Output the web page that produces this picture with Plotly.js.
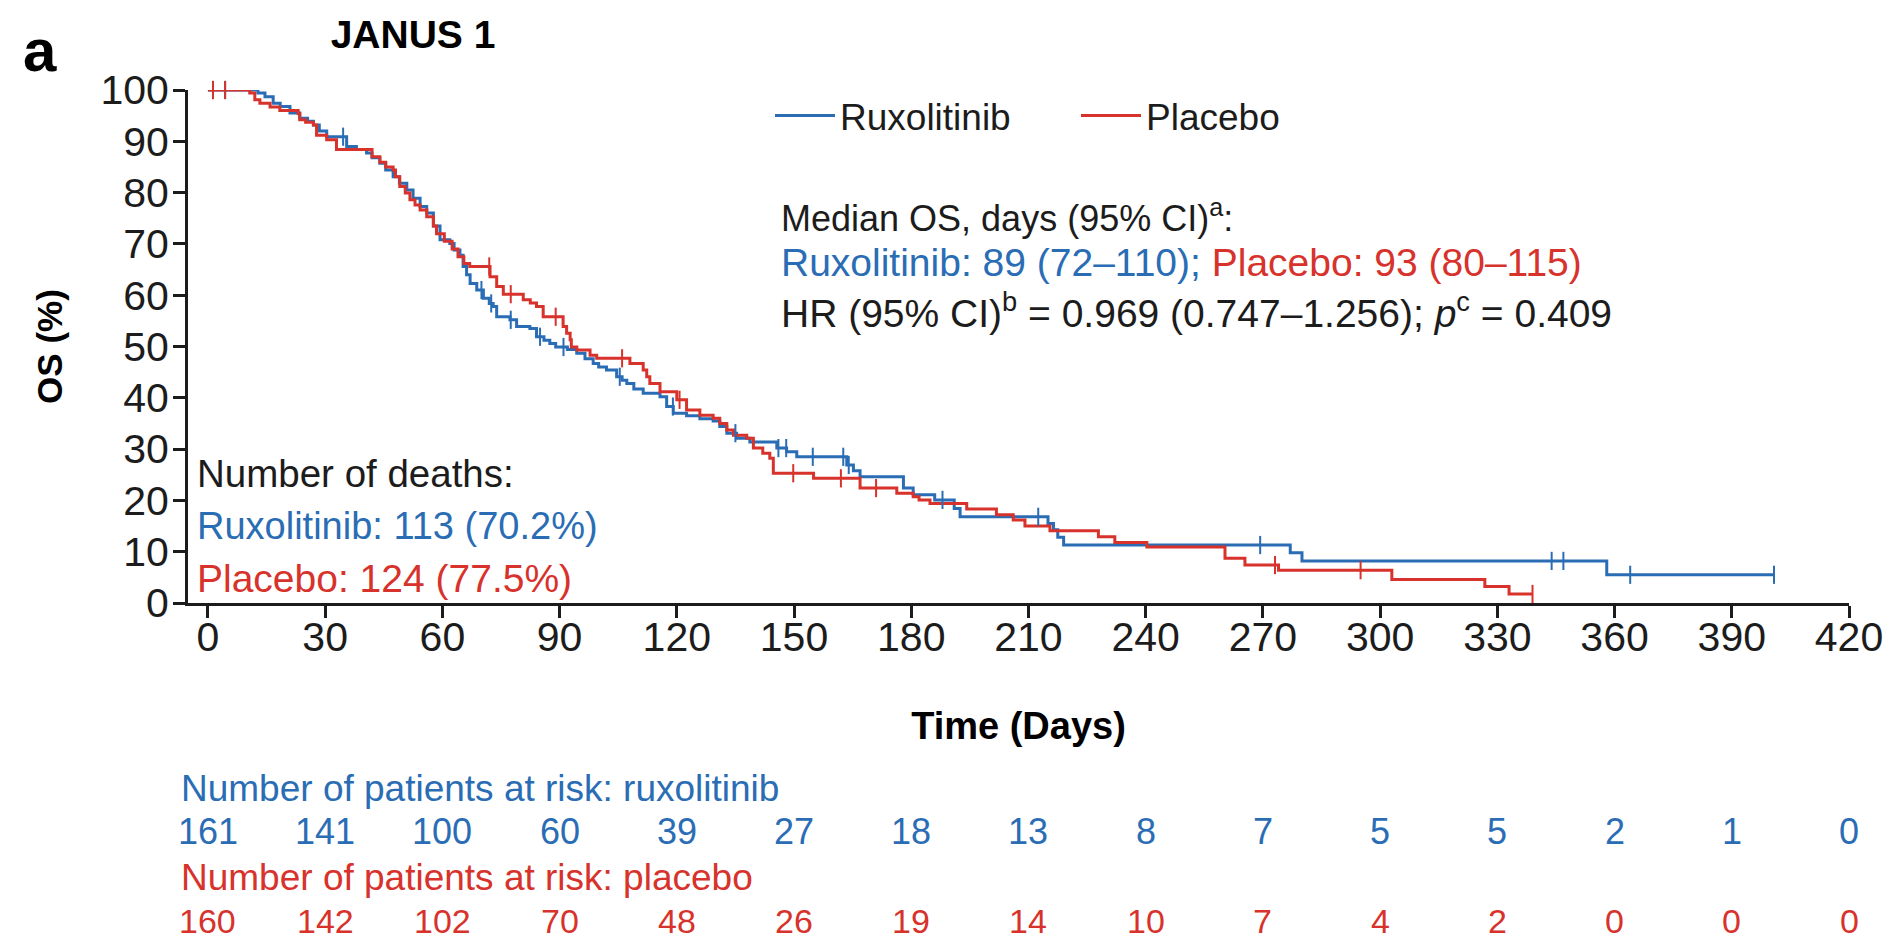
<!DOCTYPE html>
<html>
<head>
<meta charset="utf-8">
<script src="https://cdn.plot.ly/plotly-3.0.1.min.js"></script>
<style>
  html, body { margin: 0; padding: 0; background: #ffffff; }
  #chart { width: 1896px; height: 942px; }
</style>
</head>
<body>
<div id="chart"></div>
<script>
// Time axis ticks (days)
const dayTicks = [0, 30, 60, 90, 120, 150, 180, 210, 240, 270, 300, 330, 360, 390, 420];
const osTicks = [0, 10, 20, 30, 40, 50, 60, 70, 80, 90, 100];

// Kaplan-Meier steps: time of each drop (days) and OS (%) after the drop
const ruxTimes = [12.8, 14.6, 16.7, 18.5, 21.0, 23.5, 25.5, 27.0, 28.5, 30.4,
  35.5, 38.0, 40.6, 42.0, 44.0, 45.5, 47.4, 49.0, 50.9, 52.5,
  54.3, 56.0, 57.7, 59.4, 61.9, 63.0, 64.5, 65.3, 66.2, 67.1,
  68.8, 70.5, 72.0, 73.0, 73.9, 77.3, 79.0, 82.4, 84.1, 86.0,
  87.5, 89.0, 92.0, 94.4, 96.5, 98.6, 100.0, 102.0, 104.6, 106.0,
  107.2, 109.0, 111.4, 115.7, 117.4, 119.1, 122.5, 125.9, 129.3, 131.0,
  132.8, 135.3, 138.7, 145.6, 148.1, 150.7, 163.5, 165.2, 166.9, 178.0,
  180.5, 186.0, 191.0, 192.5, 215.0, 216.4, 217.5, 219.0, 277.0, 280.0,
  358.0];
const ruxSurv = [99.4, 98.7, 97.4, 96.8, 95.5, 94.5, 93.9, 93.2, 92.0, 90.9,
  89.0, 88.4, 87.7, 86.8, 85.7, 84.4, 83.1, 81.8, 80.5, 78.9,
  77.3, 76.0, 73.5, 70.8, 70.1, 68.8, 67.8, 65.6, 64.0, 62.3,
  61.0, 59.4, 58.4, 57.8, 55.8, 55.2, 53.9, 53.5, 51.9, 51.2,
  50.6, 49.9, 49.4, 48.7, 47.6, 46.7, 46.0, 45.4, 44.1, 43.4,
  42.8, 41.7, 40.9, 40.2, 38.3, 37.0, 36.5, 35.9, 35.5, 34.4,
  33.1, 32.1, 31.4, 30.2, 29.5, 28.5, 26.9, 25.8, 24.6, 22.4,
  21.1, 20.1, 18.4, 16.8, 15.5, 14.3, 12.8, 11.3, 9.8, 8.2,
  5.5];
const ruxCensor = [1.3, 4.4, 34.6, 70.0, 72.5, 77.5, 85.0, 91.0, 105.4, 119.0,
  135.0, 146.0, 148.0, 154.8, 162.6, 164.0, 188.0, 212.5, 269.3, 343.9,
  346.9, 364.0, 400.8];

const plaTimes = [10.7, 12.0, 13.3, 15.9, 18.4, 23.1, 23.5, 25.0, 27.0, 27.8,
  30.4, 32.9, 42.0, 44.0, 45.5, 47.4, 48.0, 49.1, 50.5, 51.7,
  53.0, 54.3, 56.0, 57.7, 58.5, 60.5, 62.5, 64.0, 65.5, 67.0,
  72.2, 73.9, 75.6, 80.7, 82.5, 84.1, 85.8, 90.9, 91.8, 92.7,
  93.0, 94.4, 97.8, 99.5, 108.0, 111.4, 112.3, 113.1, 115.7, 120.0,
  122.5, 125.9, 129.3, 131.0, 132.8, 134.5, 137.9, 139.6, 142.0, 143.8,
  144.7, 155.0, 166.9, 176.3, 180.5, 182.0, 184.8, 194.2, 201.8, 206.1,
  209.1, 215.5, 227.9, 232.1, 240.3, 260.3, 265.4, 274.0, 303.0, 326.8,
  333.0];
const plaSurv = [99.4, 98.1, 97.4, 96.7, 96.0, 95.4, 94.2, 93.7, 93.2, 91.2,
  90.3, 88.4, 87.0, 85.9, 85.0, 84.4, 83.1, 81.2, 79.9, 78.6,
  77.6, 76.6, 75.3, 73.5, 72.0, 70.5, 69.0, 67.5, 66.2, 65.6,
  63.6, 61.7, 60.2, 59.1, 58.5, 57.8, 55.8, 53.9, 52.6, 51.3,
  49.9, 49.3, 48.3, 47.7, 46.7, 45.4, 44.1, 42.8, 41.2, 39.6,
  37.6, 36.6, 36.0, 35.0, 33.7, 32.7, 32.1, 30.2, 29.2, 28.2,
  25.3, 24.3, 22.4, 21.4, 20.7, 20.1, 19.4, 18.3, 17.2, 16.2,
  15.0, 14.1, 12.9, 11.8, 10.9, 8.7, 7.4, 6.4, 4.6, 3.2,
  1.75];
const plaCensor = [1.3, 4.4, 72.0, 77.5, 89.0, 106.0, 120.7, 149.8, 162.0, 171.0,
  273.1, 295.0, 339.0];

// Patients at risk at each tick
const riskRux = [161, 141, 100, 60, 39, 27, 18, 13, 8, 7, 5, 5, 2, 1, 0];
const riskPla = [160, 142, 102, 70, 48, 26, 19, 14, 10, 7, 4, 2, 0, 0, 0];

const BLUE = '#2a6db5';
const RED = '#d7322b';
const INK = '#1c1c1c';
const FONT = 'Liberation Sans, Arial, Helvetica, sans-serif';

// plot area in pixels
const W = 1896, H = 942;
const L = 188, R = 47, T = 90, B = 339;
const plotW = W - L - R, plotH = H - T - B;
const px = x => (x - L) / plotW;          // page x -> paper x
const py = y => (H - B - y) / plotH;      // page y -> paper y

function survivalAt(times, surv, t) {
  let s = 100;
  for (let i = 0; i < times.length; i++) { if (times[i] <= t) s = surv[i]; }
  return s;
}

function stepTrace(name, times, surv, censor, color) {
  const xs = [0].concat(times);
  const ys = [100].concat(surv);
  const tEnd = Math.max(...censor);
  if (tEnd > times[times.length - 1]) { xs.push(tEnd); ys.push(surv[surv.length - 1]); }
  return {
    type: 'scatter', mode: 'lines', name: name,
    x: xs, y: ys, line: { shape: 'hv', color: color, width: 3 },
    cliponaxis: false, hoverinfo: 'skip'
  };
}

function censorTrace(name, times, surv, censor, color) {
  return {
    type: 'scatter', mode: 'markers', name: name + ' censored', showlegend: false,
    x: censor, y: censor.map(t => survivalAt(times, surv, t)),
    marker: { symbol: 'line-ns-open', size: 13, color: color, line: { color: color, width: 2 } },
    cliponaxis: false, hoverinfo: 'skip'
  };
}

const data = [
  stepTrace('Ruxolitinib', ruxTimes, ruxSurv, ruxCensor, BLUE),
  stepTrace('Placebo', plaTimes, plaSurv, plaCensor, RED),
  censorTrace('Ruxolitinib', ruxTimes, ruxSurv, ruxCensor, BLUE),
  censorTrace('Placebo', plaTimes, plaSurv, plaCensor, RED)
];

const txt = (text, xPix, yPix, size, color, opts) => Object.assign({
  text: text, xref: 'paper', yref: 'paper', x: px(xPix), y: py(yPix),
  xanchor: 'left', yanchor: 'middle', showarrow: false,
  font: { family: FONT, size: size, color: color }
}, opts || {});

const annotations = [
  txt('<b>a</b>', 21, 50, 60, '#000'),
  txt('Median OS, days (95% CI)<sup>a</sup>:', 779, 216, 36, INK),
  txt('<span style="color:' + BLUE + '">Ruxolitinib: 89 (72–110);</span> <span style="color:' + RED + '">Placebo: 93 (80–115)</span>', 779, 262, 39, INK),
  txt('HR (95% CI)<sup>b</sup> = 0.969 (0.747–1.256); <i>p</i><sup>c</sup> = 0.409', 779, 310, 39, INK),
  txt('Number of deaths:', 195, 473, 38.5, INK),
  txt('Ruxolitinib: 113 (70.2%)', 195, 526, 38, BLUE),
  txt('Placebo: 124 (77.5%)', 195, 578, 39, RED),
  txt('Number of patients at risk: ruxolitinib', 179, 788, 37, BLUE),
  txt('Number of patients at risk: placebo', 179, 877, 37, RED)
];

dayTicks.forEach((d, i) => {
  annotations.push({
    text: String(riskRux[i]), xref: 'x', yref: 'paper', x: d, y: py(831),
    xanchor: 'center', yanchor: 'middle', showarrow: false,
    font: { family: FONT, size: 36, color: BLUE }
  });
  annotations.push({
    text: String(riskPla[i]), xref: 'x', yref: 'paper', x: d, y: py(942),
    xanchor: 'center', yanchor: 'bottom', showarrow: false,
    font: { family: FONT, size: 34, color: RED }
  });
});

const axisStyle = {
  showline: true, linecolor: INK, linewidth: 3,
  ticks: 'outside', ticklen: 12, tickwidth: 3, tickcolor: INK,
  showgrid: false, zeroline: false, fixedrange: true,
  tickfont: { family: FONT, size: 41, color: INK }
};

const layout = {
  width: W, height: H,
  margin: { l: L, r: R, t: T, b: B, pad: 0 },
  paper_bgcolor: '#ffffff', plot_bgcolor: '#ffffff',
  font: { family: FONT, color: INK },
  title: {
    text: '<b>JANUS 1</b>', xref: 'container', yref: 'container',
    x: 413 / W, xanchor: 'center', y: 1 - 34 / H, yanchor: 'middle',
    font: { family: FONT, size: 39, color: '#000' }
  },
  xaxis: Object.assign({}, axisStyle, {
    range: [-5.1, 420], tickvals: dayTicks, ticktext: dayTicks.map(String),
    ticklabelstandoff: -16,
    title: { text: '<b>Time (Days)</b>', standoff: 54, font: { family: FONT, size: 38, color: '#000' } },
    automargin: false
  }),
  yaxis: Object.assign({}, axisStyle, {
    range: [0, 100], tickvals: osTicks, ticktext: osTicks.map(String),
    ticklabelstandoff: -4,
    title: { text: '<b>OS (%)</b>', standoff: 28, font: { family: FONT, size: 35, color: '#000' } },
    automargin: false
  }),
  showlegend: true,
  legend: {
    orientation: 'h', x: px(770), y: py(116), xanchor: 'left', yanchor: 'middle',
    font: { family: FONT, size: 37, color: INK }, itemwidth: 60,
    entrywidth: 231, entrywidthmode: 'pixels',
    bgcolor: 'rgba(0,0,0,0)', borderwidth: 0, traceorder: 'normal'
  },
  annotations: annotations
};

Plotly.newPlot('chart', data, layout, { staticPlot: true, displayModeBar: false });
</script>
</body>
</html>
